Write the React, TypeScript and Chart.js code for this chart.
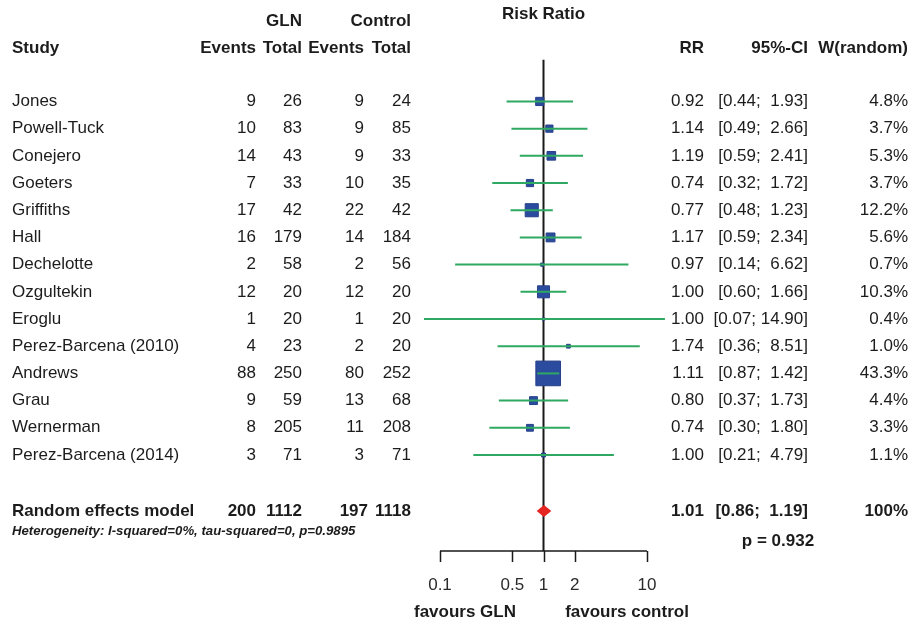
import React, { useEffect, useRef } from 'react';
import { Chart, registerables } from 'chart.js';

Chart.register(...registerables);

// ---------- data ----------
const studies = [
  'Jones', 'Powell-Tuck', 'Conejero', 'Goeters', 'Griffiths', 'Hall', 'Dechelotte',
  'Ozgultekin', 'Eroglu', 'Perez-Barcena (2010)', 'Andrews', 'Grau', 'Wernerman',
  'Perez-Barcena (2014)',
];
const glnEvents = [9, 10, 14, 7, 17, 16, 2, 12, 1, 4, 88, 9, 8, 3];
const glnTotal = [26, 83, 43, 33, 42, 179, 58, 20, 20, 23, 250, 59, 205, 71];
const ctrlEvents = [9, 9, 9, 10, 22, 14, 2, 12, 1, 2, 80, 13, 11, 3];
const ctrlTotal = [24, 85, 33, 35, 42, 184, 56, 20, 20, 20, 252, 68, 208, 71];
const rr = [0.92, 1.14, 1.19, 0.74, 0.77, 1.17, 0.97, 1.0, 1.0, 1.74, 1.11, 0.8, 0.74, 1.0];
const ciLow = [0.44, 0.49, 0.59, 0.32, 0.48, 0.59, 0.14, 0.6, 0.07, 0.36, 0.87, 0.37, 0.3, 0.21];
const ciHigh = [1.93, 2.66, 2.41, 1.72, 1.23, 2.34, 6.62, 1.66, 14.9, 8.51, 1.42, 1.73, 1.8, 4.79];
const weights = [4.8, 3.7, 5.3, 3.7, 12.2, 5.6, 0.7, 10.3, 0.4, 1.0, 43.3, 4.4, 3.3, 1.1];

const pooledLabel = 'Random effects model';
const pooledCounts = [200, 1112, 197, 1118];
const pooledEstimate = [1.01, 0.86, 1.19]; // RR, lower, upper
const pooledWeight = '100%';
const heterogeneityText = 'Heterogeneity: I-squared=0%, tau-squared=0, p=0.9895';
const pValueText = 'p = 0.932';

const xTicks = [0.1, 0.5, 1, 2, 10];
const xTickLabels = ['0.1', '0.5', '1', '2', '10'];

// ---------- layout (rows in y-scale units) ----------
const ROW_TITLE = -3.22;
const ROW_GROUP = -2.93;
const ROW_HEADER = -1.97;
const ROW_REF_TOP = -1.53;
const ROW_POOLED = 15.06;
const ROW_HET = 15.8;
const ROW_P = 16.18;
const Y_MIN = -3.73;
const Y_MAX = 16.53;

const FONT = '"Liberation Sans", Arial, Helvetica, sans-serif';
const TXT = '#1c1c1c';
const BLUE = '#2b4c9e';
const GREEN = '#2fa862';
const RED = '#e52521';

const fmt2 = (v: number) => v.toFixed(2);
const fmtCI = (lo: number, hi: number) => '[' + fmt2(lo) + '; ' + (hi < 10 ? ' ' : '') + fmt2(hi) + ']';

const forestPlugin = {
  id: 'forestText',
  afterDatasetsDraw(chart: any) {
    const { ctx, scales, chartArea } = chart;
    const xs = scales.x;
    const ys = scales.y;
    ctx.save();
    // x axis (log scale) with ticks
    const ay = chartArea.bottom;
    ctx.strokeStyle = '#1a1a1a';
    ctx.lineWidth = 1.5;
    ctx.beginPath();
    ctx.moveTo(xs.getPixelForValue(xTicks[0]), ay);
    ctx.lineTo(xs.getPixelForValue(xTicks[xTicks.length - 1]), ay);
    xTicks.forEach((v) => {
      const px = Math.round(xs.getPixelForValue(v)) + 0.5;
      ctx.moveTo(px, ay);
      ctx.lineTo(px, ay + 11);
    });
    ctx.stroke();
    ctx.fillStyle = '#2a2a2a';
    ctx.font = '17px ' + FONT;
    ctx.textAlign = 'center';
    ctx.textBaseline = 'middle';
    xTicks.forEach((v, i) => {
      ctx.fillText(xTickLabels[i], xs.getPixelForValue(v), ay + 34);
    });
    // pooled diamond
    const py = ys.getPixelForValue(ROW_POOLED);
    const xl = xs.getPixelForValue(pooledEstimate[1]);
    const xm = xs.getPixelForValue(pooledEstimate[0]);
    const xr = xs.getPixelForValue(pooledEstimate[2]);
    ctx.fillStyle = RED;
    ctx.beginPath();
    ctx.moveTo(xl, py);
    ctx.lineTo(xm, py - 6);
    ctx.lineTo(xr, py);
    ctx.lineTo(xm, py + 6);
    ctx.closePath();
    ctx.fill();
    ctx.restore();
  },
  afterDraw(chart: any) {
    const { ctx, scales } = chart;
    const ys = scales.y;
    const xs = scales.x;
    const Y = (r: number) => ys.getPixelForValue(r);
    ctx.save();
    ctx.fillStyle = TXT;
    ctx.textBaseline = 'middle';
    const put = (t: string, x: number, y: number, align: CanvasTextAlign, bold = false, size = 17, italic = false) => {
      ctx.font = (italic ? 'italic ' : '') + (bold ? 'bold ' : '') + size + 'px ' + FONT;
      ctx.textAlign = align;
      ctx.fillText(t, x, y);
    };
    // headers
    put('Risk Ratio', xs.getPixelForValue(1), Y(ROW_TITLE), 'center', true);
    put('GLN', 302, Y(ROW_GROUP), 'right', true);
    put('Control', 411, Y(ROW_GROUP), 'right', true);
    put('Study', 12, Y(ROW_HEADER), 'left', true);
    put('Events', 256, Y(ROW_HEADER), 'right', true);
    put('Total', 302, Y(ROW_HEADER), 'right', true);
    put('Events', 364, Y(ROW_HEADER), 'right', true);
    put('Total', 411, Y(ROW_HEADER), 'right', true);
    put('RR', 704, Y(ROW_HEADER), 'right', true);
    put('95%-CI', 808, Y(ROW_HEADER), 'right', true);
    put('W(random)', 908, Y(ROW_HEADER), 'right', true);
    // study rows
    studies.forEach((s, i) => {
      const y = Y(i);
      put(s, 12, y, 'left');
      put(String(glnEvents[i]), 256, y, 'right');
      put(String(glnTotal[i]), 302, y, 'right');
      put(String(ctrlEvents[i]), 364, y, 'right');
      put(String(ctrlTotal[i]), 411, y, 'right');
      put(fmt2(rr[i]), 704, y, 'right');
      put(fmtCI(ciLow[i], ciHigh[i]), 808, y, 'right');
      put(weights[i].toFixed(1) + '%', 908, y, 'right');
    });
    // pooled row
    const yp = Y(ROW_POOLED);
    put(pooledLabel, 12, yp, 'left', true);
    put(String(pooledCounts[0]), 256, yp, 'right', true);
    put(String(pooledCounts[1]), 302, yp, 'right', true);
    put(String(pooledCounts[2]), 368, yp, 'right', true);
    put(String(pooledCounts[3]), 411, yp, 'right', true);
    put(fmt2(pooledEstimate[0]), 704, yp, 'right', true);
    put(fmtCI(pooledEstimate[1], pooledEstimate[2]), 808, yp, 'right', true);
    put(pooledWeight, 908, yp, 'right', true);
    put(heterogeneityText, 12, Y(ROW_HET), 'left', true, 13.2, true);
    put(pValueText, 778, Y(ROW_P), 'center', true);
    // axis captions
    put('favours GLN', 465, 612, 'center', true);
    put('favours control', 627, 612, 'center', true);
    ctx.restore();
  },
};

export default function App() {
  const ref = useRef<HTMLCanvasElement | null>(null);
  useEffect(() => {
    if (!ref.current) return;
    const ciSets = studies.map((s, i) => ({
      label: s + ' CI',
      type: 'scatter' as const,
      data: [
        { x: ciLow[i], y: i },
        { x: ciHigh[i], y: i },
      ],
      showLine: true,
      borderColor: GREEN,
      borderWidth: 2,
      pointRadius: 0,
      clip: false as any,
      order: 0,
    }));
    const chart = new Chart(ref.current, {
      type: 'scatter',
      data: {
        datasets: [
          ...ciSets,
          {
            label: 'RR',
            data: rr.map((v, i) => ({ x: v, y: i })),
            pointStyle: 'rect',
            pointRadius: weights.map((w) => (3.75 * Math.sqrt(w)) / 1.4142),
            backgroundColor: BLUE,
            borderColor: '#27408a',
            borderWidth: 1,
            clip: false as any,
            order: 1,
          },
          {
            label: 'reference',
            data: [
              { x: 1, y: ROW_REF_TOP },
              { x: 1, y: Y_MAX },
            ],
            showLine: true,
            borderColor: '#1a1a1a',
            borderWidth: 2,
            pointRadius: 0,
            clip: false as any,
            order: 2,
          },
        ] as any,
      },
      options: {
        animation: false,
        responsive: false,
        maintainAspectRatio: false,
        layout: { autoPadding: false, padding: { left: 440, right: 264, top: 0, bottom: 73 } },
        plugins: { legend: { display: false }, tooltip: { enabled: false }, title: { display: false } },
        scales: {
          x: {
            type: 'logarithmic',
            min: 0.1,
            max: 10,
            display: false,
          },
          y: {
            type: 'linear',
            min: Y_MIN,
            max: Y_MAX,
            reverse: true,
            display: false,
          },
        },
      },
      plugins: [forestPlugin],
    });
    return () => chart.destroy();
  }, []);
  return (
    <div style={{ position: 'fixed', left: 0, top: 0, width: 911, height: 624, background: '#fff' }}>
      <canvas ref={ref} width={911} height={624} style={{ width: 911, height: 624 }} />
    </div>
  );
}
